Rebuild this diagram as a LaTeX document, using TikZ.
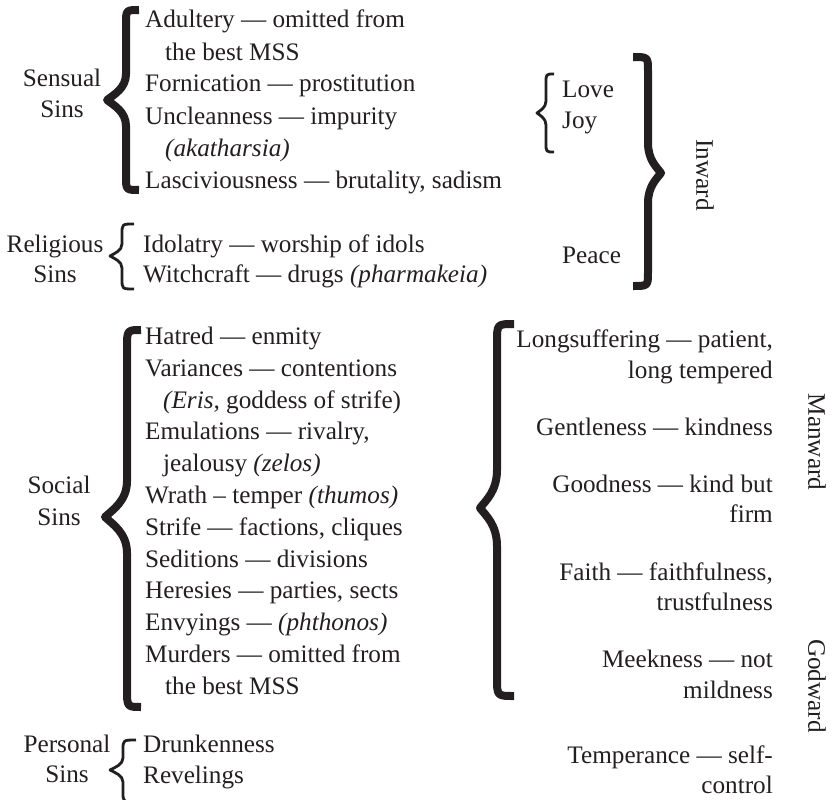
\documentclass[tikz,border=0pt]{standalone}
\usepackage{fontspec}
\setmainfont{Liberation Serif}
\definecolor{ink}{RGB}{35,31,32}
\newcommand{\mybrace}[9]{% #1 style, #2 xtip, #3 xvert, #4 xend, #5 ytop, #6 ymid, #7 ybot, #8 hook, #9 tip length
  \draw[#1] (#4,#5) .. controls (#3,#5) .. (#3,{#5+#8}) -- (#3,{#6-#9})
    .. controls (#3,{#6-0.45*#9}) and ({#2+0.35*(#3-#2)},{#6-0.2*#9}) .. (#2,#6)
    .. controls ({#2+0.35*(#3-#2)},{#6+0.2*#9}) and (#3,{#6+0.45*#9}) .. (#3,{#6+#9})
    -- (#3,{#7-#8}) .. controls (#3,#7) .. (#4,#7);}
\begin{document}
\begin{tikzpicture}[x=1pt,y=-1pt,
  every node/.style={inner sep=0pt,text=ink,font=\fontsize{25.2}{30}\selectfont},
  tl/.style={anchor=base west},
  tr/.style={anchor=base east},
  tc/.style={anchor=base},
  thickbr/.style={draw=ink,line width=8pt,line join=round},
  thinbr/.style={draw=ink,line width=2.8pt,line join=round}]
\useasboundingbox (0,0) rectangle (838,800);
% ---- Sensual
\node[tc] (sen1) at (62,86) {Sensual};
\node[tc] (sen2) at (62,117) {Sins};
\node[tl] (a1) at (145,28) {Adultery — omitted from};
\node[tl] (a2) at (165,60) {the best MSS};
\node[tl] (a3) at (145,92) {Fornication — prostitution};
\node[tl] (a4) at (145,124) {Uncleanness — impurity};
\node[tl] (a5) at (165,156) {\textit{(akatharsia)}};
\node[tl] (a6) at (145,188) {Lasciviousness — brutality, sadism};
\mybrace{thickbr}{107}{126}{139}{10}{100}{190}{14}{26}
% ---- Religious
\node[tc] (rel1) at (55,252) {Religious};
\node[tc] (rel2) at (55,282) {Sins};
\node[tl] (b1) at (143,252) {Idolatry — worship of idols};
\node[tl] (b2) at (143,282) {Witchcraft — drugs \textit{(pharmakeia)}};
\mybrace{thinbr}{110}{122}{134}{224}{256}{289}{10}{12}
% ---- Social
\node[tc] (soc1) at (59,493) {Social};
\node[tc] (soc2) at (59,525) {Sins};
\node[tl] (c1) at (145,344) {Hatred — enmity};
\node[tl] (c2) at (145,376) {Variances — contentions};
\node[tl] (c3) at (163,408) {\textit{(Eris,} goddess of strife)};
\node[tl] (c4) at (145,439) {Emulations — rivalry,};
\node[tl] (c5) at (163,471) {jealousy \textit{(zelos)}};
\node[tl] (c6) at (145,503) {Wrath – temper \textit{(thumos)}};
\node[tl] (c7) at (145,535) {Strife — factions, cliques};
\node[tl] (c8) at (145,567) {Seditions — divisions};
\node[tl] (c9) at (145,598) {Heresies — parties, sects};
\node[tl] (c10) at (145,630) {Envyings — \textit{(phthonos)}};
\node[tl] (c11) at (145,662) {Murders — omitted from};
\node[tl] (c12) at (165,694) {the best MSS};
\mybrace{thickbr}{105}{127}{141}{330}{517}{707}{18}{36}
% ---- Personal
\node[tc] (per1) at (67,752) {Personal};
\node[tc] (per2) at (67,782) {Sins};
\node[tl] (d1) at (143,752) {Drunkenness};
\node[tl] (d2) at (143,783) {Revelings};
\mybrace{thinbr}{110}{123}{136}{740}{770}{802}{10}{12}
% ---- Inward
\node[tl] (love) at (562,97) {Love};
\node[tl] (joy) at (562,128) {Joy};
\mybrace{thinbr}{537}{546}{554}{74}{113}{152}{9}{12}
\node[tl] (peace) at (562,263) {Peace};
\mybrace{thickbr}{661}{648}{633}{57}{173}{286}{14}{30}
\node[rotate=-90] (inward) at (705,175) {Inward};
% ---- Manward / Godward
\node[tr] (e1) at (773,347) {Longsuffering — patient,};
\node[tr] (e2) at (773,378) {long tempered};
\node[tr] (e3) at (773,435) {Gentleness — kindness};
\node[tr] (e4) at (773,492) {Goodness — kind but};
\node[tr] (e5) at (773,522) {firm};
\node[tr] (e6) at (773,580) {Faith — faithfulness,};
\node[tr] (e7) at (773,610) {trustfulness};
\node[tr] (e8) at (773,667) {Meekness — not};
\node[tr] (e9) at (773,698) {mildness};
\node[tr] (e10) at (773,763) {Temperance — self-};
\node[tr] (e11) at (773,793) {control};
\mybrace{thickbr}{480}{497}{514}{324}{508}{696}{18}{38}
\node[rotate=-90] (manward) at (817,442) {Manward};
\node[rotate=-90] (godward) at (817,686) {Godward};
\end{tikzpicture}
\end{document}
